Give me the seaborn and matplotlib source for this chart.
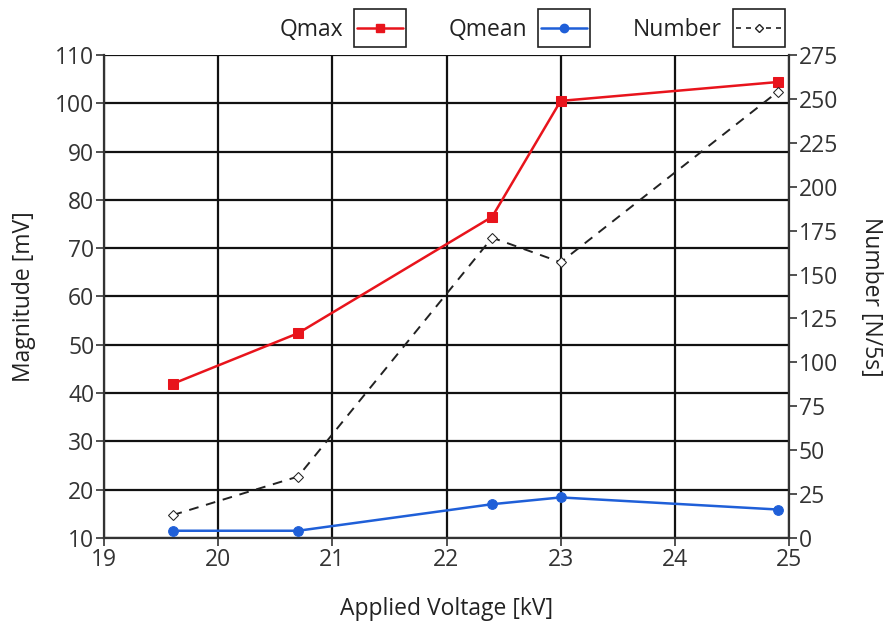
import matplotlib
matplotlib.use("Agg")
import matplotlib.pyplot as plt
import seaborn as sns
import pandas as pd
from matplotlib.lines import Line2D
from matplotlib.patches import Rectangle

voltage = [19.6, 20.7, 22.4, 23.0, 24.9]
qmax = [41.9, 52.4, 76.5, 100.5, 104.4]
qmean = [11.5, 11.5, 17.0, 18.4, 15.9]
number = [13, 35, 171, 157, 254]

df = pd.DataFrame({"V": voltage, "Qmax": qmax, "Qmean": qmean, "Number": number})

sns.set_style("white")
plt.rcParams["font.family"] = ["Open Sans", "DejaVu Sans"]

fig = plt.figure(figsize=(8.87, 6.27), dpi=100)
ax = fig.add_axes([104/887, 1-538/627, (789-104)/887, (538-55)/627])
ax2 = ax.twinx()

red = "#e8141c"
blue = "#1f5fd8"
sns.lineplot(data=df, x="V", y="Qmax", ax=ax, color=red, marker="s", markersize=7,
             markeredgecolor=red, linewidth=1.8, zorder=5)
sns.lineplot(data=df, x="V", y="Qmean", ax=ax, color=blue, marker="o", markersize=7,
             markeredgecolor=blue, linewidth=1.8, zorder=5)
sns.lineplot(data=df, x="V", y="Number", ax=ax2, color="#222222", marker="D", markersize=5,
             markerfacecolor="white", markeredgecolor="#222222", linewidth=1.4,
             linestyle=(0, (5, 4)), zorder=5)

ax.set_xlim(19, 25)
ax.set_ylim(10, 110)
ax2.set_ylim(0, 275)
ax.set_xticks(range(19, 26))
ax.set_yticks(range(10, 111, 10))
ax2.set_yticks(range(0, 276, 25))

ax.grid(True, color="#111111", linewidth=1.6)
for s in ["left", "right", "bottom", "top"]:
    ax.spines[s].set_visible(False)
    ax2.spines[s].set_visible(False)
for a, s in [(ax, "left"), (ax, "bottom"), (ax2, "right")]:
    a.spines[s].set_visible(True)
    a.spines[s].set_color("#333333")
    a.spines[s].set_linewidth(1.6)

fs = 16.5
tc = "#333333"
ax.tick_params(axis="both", which="major", labelsize=fs, colors=tc, length=6, width=1.2,
               direction="out", left=True, bottom=True, pad=1)
ax2.tick_params(axis="y", labelsize=fs, colors=tc, length=6, width=1.2, direction="out",
                right=True, pad=1)

ax.set_xlabel("Applied Voltage [kV]", fontsize=fs, color="#222222", labelpad=18)
ax.set_ylabel("Magnitude [mV]", fontsize=fs, color="#222222", labelpad=14)
ax2.set_ylabel("Number [N/5s]", fontsize=fs, color="#222222", rotation=270, labelpad=32)

handles = [
    Line2D([0], [0], color=red, marker="s", markersize=6, linewidth=1.8),
    Line2D([0], [0], color=blue, marker="o", markersize=6, linewidth=1.8),
    Line2D([0], [0], color="#222222", marker="D", markersize=4, markerfacecolor="white",
           linewidth=1.2, linestyle=(0, (3, 3))),
]
leg = fig.legend(handles, ["Qmax", "Qmean", "Number"], loc="upper right",
                 bbox_to_anchor=(800/887, 1.0), ncol=3, frameon=False, markerfirst=False,
                 fontsize=fs, handlelength=2.0, columnspacing=2.0, handletextpad=0.6,
                 borderaxespad=0.4)
for t in leg.get_texts():
    t.set_color("#222222")

fig.canvas.draw()
r = fig.canvas.get_renderer()
for h in leg.legend_handles:
    bb = h.get_window_extent(r)
    cx = (bb.x0 + bb.x1) / 2
    cy = (bb.y0 + bb.y1) / 2
    w, hh = 52, 38
    fig.patches.append(Rectangle(((cx - w/2)/887, (cy - hh/2)/627), w/887, hh/627,
                                 transform=fig.transFigure, fill=False,
                                 edgecolor="#222222", linewidth=1.2))

fig.savefig("out.png", dpi=100, facecolor="white")
